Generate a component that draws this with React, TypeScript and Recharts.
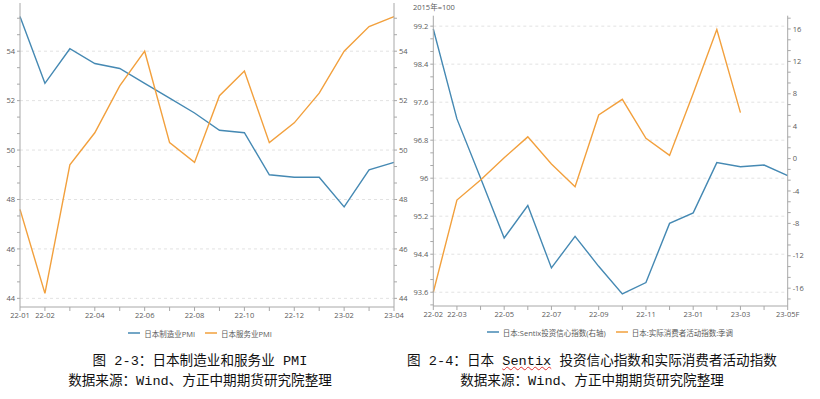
import React from "react";
import {
  LineChart,
  Line,
  XAxis,
  YAxis,
  CartesianGrid,
  Legend,
} from "recharts";

// 图 2-3 日本制造业和服务业 PMI
const pmiMonths = [
  "22-01", "22-02", "22-03", "22-04", "22-05", "22-06", "22-07", "22-08",
  "22-09", "22-10", "22-11", "22-12", "23-01", "23-02", "23-03", "23-04",
];
const mfgPmi = [55.4, 52.7, 54.1, 53.5, 53.3, 52.7, 52.1, 51.5, 50.8, 50.7, 49.0, 48.9, 48.9, 47.7, 49.2, 49.5];
const svcPmi = [47.6, 44.2, 49.4, 50.7, 52.6, 54.0, 50.3, 49.5, 52.2, 53.2, 50.3, 51.1, 52.3, 54.0, 55.0, 55.4];
const pmiLabels = ["22-01", "22-02", "22-04", "22-06", "22-08", "22-10", "22-12", "23-02", "23-04"];
const pmiTicks = [44, 46, 48, 50, 52, 54];

// 图 2-4 日本 Sentix 投资信心指数和实际消费者活动指数
const sxMonths = [
  "22-02", "22-03", "22-04", "22-05", "22-06", "22-07", "22-08", "22-09",
  "22-10", "22-11", "22-12", "23-01", "23-02", "23-03", "23-04", "23-05F",
];
const sentix = [16.0, 4.9, -2.4, -9.8, -5.8, -13.5, -9.6, -13.3, -16.7, -15.3, -8.0, -6.7, -0.5, -1.0, -0.8, -2.1];
const consumption = [93.6, 95.54, 95.96, 96.43, 96.87, 96.3, 95.82, 97.33, 97.66, 96.84, 96.48, 97.78, 99.13, 97.38, null, null];
const sxLabels = ["22-02", "22-03", "22-05", "22-07", "22-09", "22-11", "23-01", "23-03", "23-05F"];
const consTicks = [93.6, 94.4, 95.2, 96, 96.8, 97.6, 98.4, 99.2];
const sentixTicks = [-16, -12, -8, -4, 0, 4, 8, 12, 16];

const BLUE = "#4589b3";
const ORANGE = "#f2a03d";
const AXIS = "#a8a8a8";
const TEXT = "#5a5a5a";
const FONT = '"Open Sans", "Noto Sans CJK SC", sans-serif';
const CAPTION_FONT = '"Liberation Mono", "Noto Sans CJK SC", monospace';

// major ticks plus two minor ticks in every gap
function withMinor(major: number[], lo: number, hi: number) {
  const step = major[1] - major[0];
  const out: number[] = [];
  for (let i = -1; i < major.length; i++) {
    const base = i < 0 ? major[0] - step : major[i];
    for (let k = 0; k < 3; k++) {
      const v = +(base + (step * k) / 3).toFixed(4);
      if (v >= lo && v <= hi) out.push(v);
    }
  }
  return out;
}

const isIn = (list: number[], v: number) => list.some((m) => Math.abs(m - v) < 1e-6);

const makeYTick = (major: number[]) => (props: any) => {
  const { x, y, payload, textAnchor } = props;
  if (!isIn(major, payload.value)) return <g />;
  return (
    <text x={x} y={y} dy="0.355em" textAnchor={textAnchor} fill={TEXT} fontSize={7.5} fontFamily={FONT}>
      {String(Number(payload.value.toFixed(1)))}
    </text>
  );
};

const makeXTick = (labels: string[]) => (props: any) => {
  const { x, y, payload } = props;
  if (!labels.includes(payload.value)) return <g />;
  return (
    <text x={x} y={y} dy="0.71em" textAnchor="middle" fill={TEXT} fontSize={7.5} fontFamily={FONT}>
      {payload.value}
    </text>
  );
};

const legendFmt = (value: string) => (
  <span style={{ color: TEXT, fontSize: 7.5, fontFamily: FONT }}>{value}</span>
);

const pmiData = pmiMonths.map((m, i) => ({ month: m, mfg: mfgPmi[i], svc: svcPmi[i] }));
const sxData = sxMonths.map((m, i) => ({ month: m, sentix: sentix[i], cons: consumption[i] }));

const PMI_DOMAIN: [number, number] = [43.65, 55.95];
const CONS_DOMAIN: [number, number] = [93.31, 99.42];
const SENTIX_DOMAIN: [number, number] = [-18.2, 17.64];

function PmiChart() {
  const ticks = withMinor(pmiTicks, PMI_DOMAIN[0], PMI_DOMAIN[1]);
  return (
    <LineChart width={410} height={339} data={pmiData} margin={{ top: 3, right: 0, bottom: 0, left: 0 }}>
      <CartesianGrid yAxisId="l" vertical={false} horizontalValues={pmiTicks} stroke="#e2e2e2" strokeDasharray="3 3" />
      <XAxis
        dataKey="month"
        height={16}
        interval={0}
        tickSize={4}
        tick={makeXTick(pmiLabels)}
        axisLine={{ stroke: AXIS }}
        tickLine={{ stroke: AXIS }}
      />
      <YAxis
        yAxisId="l"
        width={20}
        domain={PMI_DOMAIN}
        ticks={ticks}
        interval={0}
        allowDataOverflow
        tickSize={3}
        tick={makeYTick(pmiTicks)}
        axisLine={{ stroke: AXIS }}
        tickLine={{ stroke: AXIS }}
      />
      <YAxis
        yAxisId="r"
        orientation="right"
        width={16}
        domain={PMI_DOMAIN}
        ticks={ticks}
        interval={0}
        allowDataOverflow
        tickSize={3}
        tick={makeYTick(pmiTicks)}
        axisLine={{ stroke: AXIS }}
        tickLine={{ stroke: AXIS }}
      />
      <Legend verticalAlign="bottom" height={16} iconType="plainline" iconSize={12} formatter={legendFmt} />
      <Line yAxisId="l" name="日本制造业PMI" dataKey="mfg" stroke={BLUE} strokeWidth={1.4} dot={false} isAnimationActive={false} />
      <Line yAxisId="r" name="日本服务业PMI" dataKey="svc" stroke={ORANGE} strokeWidth={1.4} dot={false} isAnimationActive={false} />
    </LineChart>
  );
}

function SentixChart() {
  const lTicks = withMinor(consTicks, CONS_DOMAIN[0], CONS_DOMAIN[1]);
  const rTicks = withMinor(sentixTicks, SENTIX_DOMAIN[0], SENTIX_DOMAIN[1]);
  return (
    <LineChart width={410} height={338} data={sxData} margin={{ top: 15.7, right: 0, bottom: 0, left: 0 }}>
      <CartesianGrid yAxisId="l" vertical={false} horizontalValues={consTicks} stroke="#e2e2e2" strokeDasharray="3 3" />
      <XAxis
        dataKey="month"
        height={16}
        interval={0}
        tickSize={4}
        tick={makeXTick(sxLabels)}
        axisLine={{ stroke: AXIS }}
        tickLine={{ stroke: AXIS }}
      />
      <YAxis
        yAxisId="l"
        width={23.3}
        domain={CONS_DOMAIN}
        ticks={lTicks}
        interval={0}
        allowDataOverflow
        tickSize={3}
        tick={makeYTick(consTicks)}
        axisLine={{ stroke: AXIS }}
        tickLine={{ stroke: AXIS }}
      />
      <YAxis
        yAxisId="r"
        orientation="right"
        width={32.3}
        domain={SENTIX_DOMAIN}
        ticks={rTicks}
        interval={0}
        allowDataOverflow
        tickSize={3}
        tick={makeYTick(sentixTicks)}
        axisLine={{ stroke: AXIS }}
        tickLine={{ stroke: AXIS }}
      />
      <Legend verticalAlign="bottom" height={16} iconType="plainline" iconSize={12} formatter={legendFmt} />
      <Line yAxisId="r" name="日本:Sentix投资信心指数(右轴)" dataKey="sentix" stroke={BLUE} strokeWidth={1.4} dot={false} isAnimationActive={false} />
      <Line yAxisId="l" name="日本:实际消费者活动指数:季调" dataKey="cons" stroke={ORANGE} strokeWidth={1.4} dot={false} isAnimationActive={false} />
    </LineChart>
  );
}

const captionStyle: React.CSSProperties = {
  position: "absolute",
  textAlign: "center",
  fontFamily: CAPTION_FONT,
  fontSize: 13.6,
  color: "#111",
  lineHeight: "20px",
  whiteSpace: "nowrap",
};

export default function App() {
  return (
    <div style={{ position: "absolute", left: 0, top: 0, width: 820, height: 399, background: "#fff", overflow: "hidden" }}>
      <div style={{ position: "absolute", left: 0, top: 0 }}>
        <PmiChart />
      </div>
      <div style={{ position: "absolute", left: 410, top: 0 }}>
        <SentixChart />
      </div>
      <div style={{ position: "absolute", left: 413, top: 1, fontSize: 7.5, color: TEXT, fontFamily: FONT }}>2015年=100</div>
      <div style={{ ...captionStyle, left: 0, width: 400, top: 352 }}>
        图 2-3：日本制造业和服务业 PMI
        <br />
        数据来源：Wind、方正中期期货研究院整理
      </div>
      <div style={{ ...captionStyle, left: 392, width: 400, top: 352 }}>
        图 2-4：日本{" "}
        <span style={{ textDecoration: "underline wavy #e03030", textDecorationThickness: 1 }}>Sentix</span>{" "}
        投资信心指数和实际消费者活动指数
        <br />
        数据来源：Wind、方正中期期货研究院整理
      </div>
    </div>
  );
}
